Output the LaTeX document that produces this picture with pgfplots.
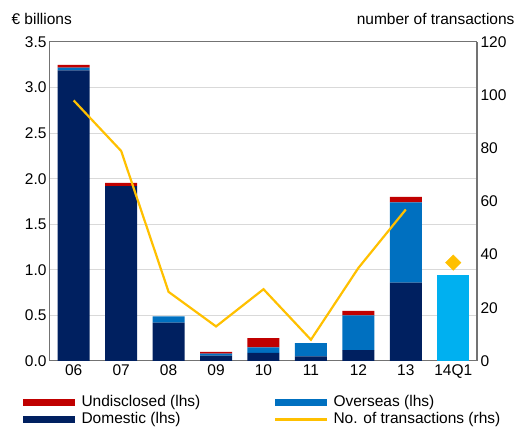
\documentclass[border=0pt]{standalone}
\usepackage{fontspec}
\setmainfont{Liberation Sans}
\usepackage{pgfplots}
\pgfplotsset{compat=1.18}
\definecolor{dom}{RGB}{0,32,96}
\definecolor{ovs}{RGB}{0,112,192}
\definecolor{und}{RGB}{192,0,0}
\definecolor{q1}{RGB}{0,176,240}
\definecolor{lin}{RGB}{255,192,0}
\definecolor{grd}{RGB}{217,217,217}
\begin{document}
\begin{tikzpicture}[font=\fontsize{15.5}{18}\selectfont]
\useasboundingbox (-50pt,-70pt) rectangle (473pt,361pt);
\pgfplotsset{
  base/.style={
    at={(0pt,0pt)}, anchor=south west,
    scale only axis, width=427pt, height=319pt,
    xmin=-0.5, xmax=8.5,
    major tick length=0pt,
    /pgf/number format/assume math mode=true,
    tick label style={font=\fontsize{15.5}{18}\selectfont},
  }
}
\begin{axis}[base,
  ymin=0, ymax=3.5,
  ytick={0,0.5,...,3.5},
  yticklabel style={/pgf/number format/.cd, fixed, fixed zerofill, precision=1},
  xtick={0,...,8},
  xticklabels={06,07,08,09,10,11,12,13,14Q1},
  ymajorgrids, grid style={grd, line width=1pt},
  axis line style={black!55, line width=1pt},
  ybar stacked, bar width=32pt,
  clip=false,
]
\addplot[fill=dom, draw=none] coordinates {(0,3.19) (1,1.92) (2,0.42) (3,0.06) (4,0.09) (5,0.05) (6,0.12) (7,0.86) (8,0)};
\addplot[fill=ovs, draw=none] coordinates {(0,0.03) (1,0.0) (2,0.07) (3,0.02) (4,0.06) (5,0.145) (6,0.38) (7,0.88) (8,0)};
\addplot[fill=und, draw=none] coordinates {(0,0.03) (1,0.035) (2,0) (3,0.02) (4,0.10) (5,0) (6,0.05) (7,0.06) (8,0)};
\addplot[fill=q1, draw=none] coordinates {(0,0) (1,0) (2,0) (3,0) (4,0) (5,0) (6,0) (7,0) (8,0.944)};
\end{axis}
\begin{axis}[base,
  ymin=0, ymax=120,
  ytick={0,20,...,120},
  axis y line*=right, axis x line=none,
  axis line style={black!55, line width=1pt},
  clip=false,
]
\addplot[lin, line width=2.2pt, mark=none] coordinates {(0,98) (1,79) (2,26) (3,13) (4,27) (5,8) (6,35) (7,57)};
\addplot[lin, only marks, mark=square*, mark size=5.5pt, mark options={fill=lin, draw=lin, rotate=45}] coordinates {(8,37)};
\end{axis}
\node[anchor=base west] at (-42pt,336pt) {€ billions};
\node[anchor=base east] at (468pt,336pt) {number of transactions};
% legend
\fill[und] (-27pt,-45pt) rectangle (25pt,-38pt);
\node[anchor=west] at (28pt,-41.5pt) {Undisclosed (lhs)};
\fill[ovs] (225pt,-45pt) rectangle (277pt,-38pt);
\node[anchor=west] at (280pt,-41.5pt) {Overseas (lhs)};
\fill[dom] (-27pt,-62pt) rectangle (25pt,-55pt);
\node[anchor=west] at (28pt,-58.5pt) {Domestic (lhs)};
\draw[lin, line width=2.2pt] (225pt,-58.5pt) -- (277pt,-58.5pt);
\node[anchor=west] at (280pt,-58.5pt) {No. of transactions (rhs)};
\end{tikzpicture}
\end{document}
